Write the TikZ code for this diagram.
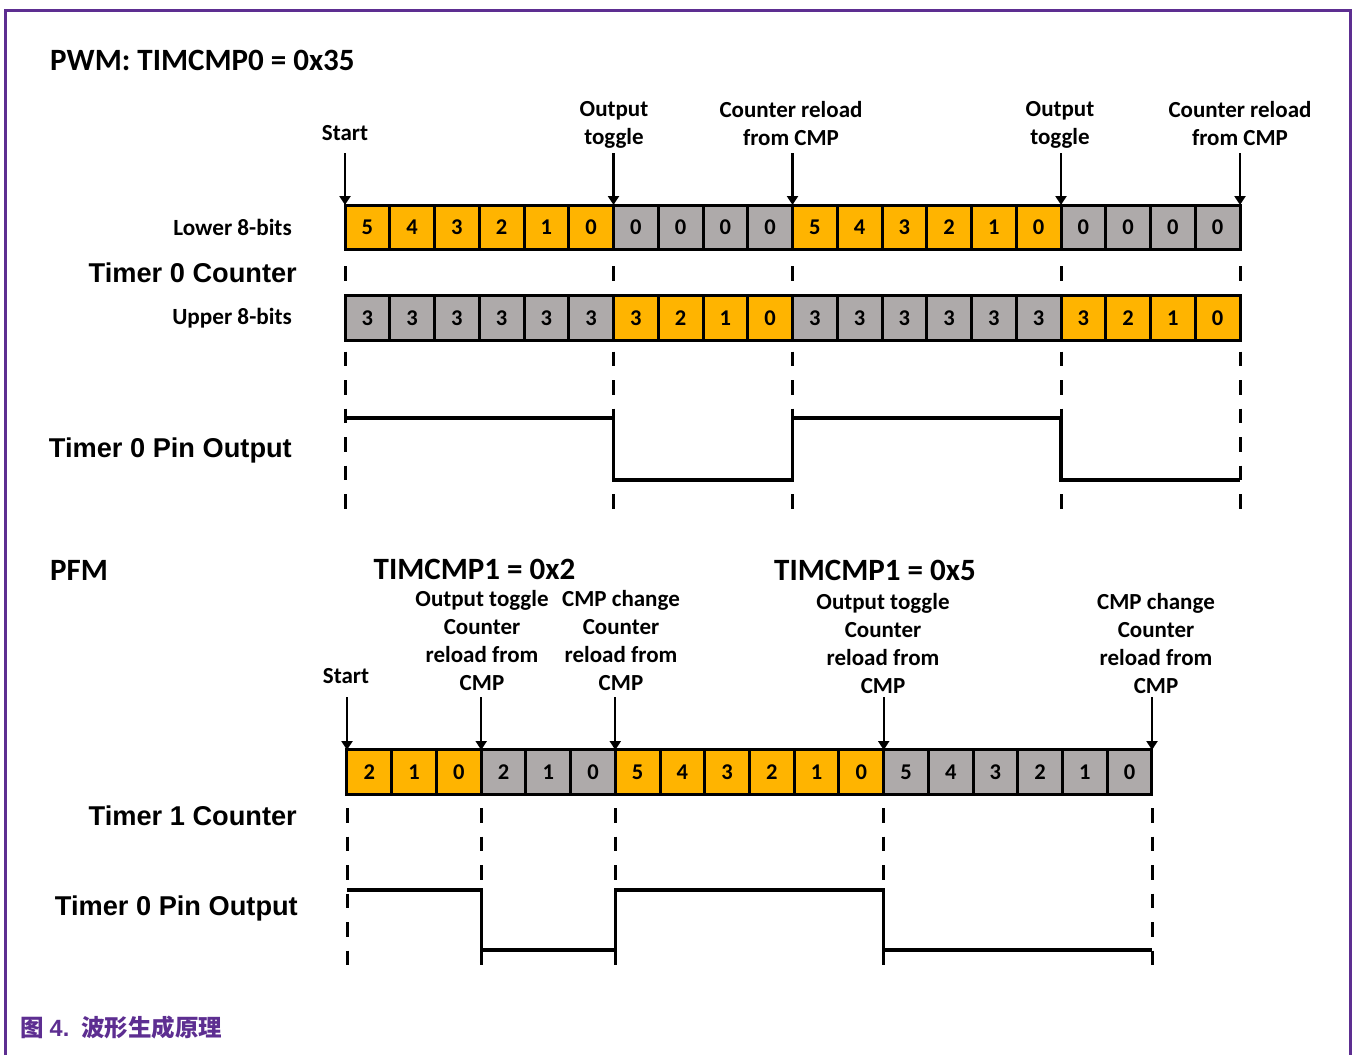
\documentclass[tikz,border=0pt]{standalone}
\usepackage{fontspec}
\setmainfont{Carlito}
\newfontfamily\arialf{Liberation Sans}
\newfontfamily\cjkf{Noto Sans CJK SC}
\usetikzlibrary{arrows.meta}
\definecolor{orng}{RGB}{255,180,0}
\definecolor{greyc}{RGB}{174,170,170}
\definecolor{nxppurple}{RGB}{93,46,145}
\begin{document}
\begin{tikzpicture}[x=1pt,y=-1pt,
  cellbox/.style={draw=black, line width=3pt, minimum width=44.75pt, minimum height=44.5pt, inner sep=0pt, font=\fontsize{22.5}{26}\selectfont\bfseries},
  lbl/.style={font=\fontsize{23}{28}\selectfont\bfseries, align=center, inner sep=0pt, anchor=base},
  big/.style={font=\fontsize{31}{36}\selectfont\bfseries, inner sep=0pt, anchor=base},
  rowlbl/.style={font=\arialf\fontsize{27.2}{32}\selectfont\bfseries, inner sep=0pt, anchor=base east},
  sublbl/.style={font=\fontsize{23.2}{28}\selectfont\bfseries, inner sep=0pt, anchor=base east},
  arr/.style={line width=2.2pt, -{Triangle[width=11pt,length=9pt]}},
  guide/.style={line width=3pt, dash pattern=on 14.5pt off 14pt},
  wave/.style={line width=3.2pt, line join=miter},
  frameline/.style={draw=nxppurple, line width=3pt}]

\useasboundingbox (0,0) rectangle (1352,1055);
\draw[frameline] (5,1055) -- (5,10) -- (1350,10) -- (1350,1055);

% ---------------- PWM ----------------
\node[big, anchor=base west] (pwmtitle) at (50,70) {PWM: TIMCMP0 = 0x35};

% guide coordinates
\foreach \x [count=\k from 0] in {345,613.5,792.5,1061,1240} {
  \coordinate (pgs\k) at (\x,266);
  \coordinate (pge\k) at (\x,510);
  \coordinate (pas\k) at (\x,153);
  \coordinate (pae\k) at (\x,205);
}
\foreach \k in {0,...,4} \draw[guide] (pgs\k) -- (pge\k);

% lower 8 bits
\foreach \v/\c [count=\i from 0] in {5/orng,4/orng,3/orng,2/orng,1/orng,0/orng,0/greyc,0/greyc,0/greyc,0/greyc,5/orng,4/orng,3/orng,2/orng,1/orng,0/orng,0/greyc,0/greyc,0/greyc,0/greyc}
  \node[cellbox, fill=\c] (lo\i) at ({345+44.75*(\i+0.5)},227.5) {\v};
% upper 8 bits
\foreach \v/\c [count=\i from 0] in {3/greyc,3/greyc,3/greyc,3/greyc,3/greyc,3/greyc,3/orng,2/orng,1/orng,0/orng,3/greyc,3/greyc,3/greyc,3/greyc,3/greyc,3/greyc,3/orng,2/orng,1/orng,0/orng}
  \node[cellbox, fill=\c] (up\i) at ({345+44.75*(\i+0.5)},318) {\v};

\node[lbl] (pstart) at (345,140) {Start};
\node[lbl] (ptog1) at (614,144) {Output\\toggle};
\node[lbl] (prel1) at (791,145) {Counter reload\\from CMP};
\node[lbl] (ptog2) at (1060,144) {Output\\toggle};
\node[lbl] (prel2) at (1240,145) {Counter reload\\from CMP};
\foreach \k in {0,...,4} \draw[arr] (pas\k) -- (pae\k);

\node[sublbl] (lowlbl) at (292,235) {Lower 8-bits};
\node[rowlbl] (t0c) at (297,282) {Timer 0 Counter};
\node[sublbl] (uplbl) at (292,324) {Upper 8-bits};
\node[rowlbl] (t0p) at (292,457) {Timer 0 Pin Output};

\draw[wave] (345,418) -- (613.5,418) -- (613.5,480) -- (792.5,480) -- (792.5,418)
  -- (1061,418) -- (1061,480) -- (1240,480);

% ---------------- PFM ----------------
\node[big, anchor=base west] (pfmtitle) at (50,580) {PFM};
\node[big] (cmp2) at (474.5,579) {TIMCMP1 = 0x2};
\node[big] (cmp5) at (875,580) {TIMCMP1 = 0x5};

\foreach \x [count=\k from 0] in {347,481.2,615.3,883.7,1152} {
  \coordinate (fgs\k) at (\x,808);
  \coordinate (fge\k) at (\x,970);
  \coordinate (fas\k) at (\x,697);
  \coordinate (fae\k) at (\x,750);
}
\foreach \k in {0,...,4} \draw[guide] (fgs\k) -- (fge\k);

\foreach \v/\c [count=\i from 0] in {2/orng,1/orng,0/orng,2/greyc,1/greyc,0/greyc,5/orng,4/orng,3/orng,2/orng,1/orng,0/orng,5/greyc,4/greyc,3/greyc,2/greyc,1/greyc,0/greyc}
  \node[cellbox, fill=\c] (pf\i) at ({347+44.72*(\i+0.5)},772) {\v};

\node[lbl] (fstart) at (346,683) {Start};
\node[lbl] (ftog1) at (482,690) {Output toggle\\Counter\\reload from\\CMP};
\node[lbl] (fchg1) at (621,690) {CMP change\\Counter\\reload from\\CMP};
\node[lbl] (ftog2) at (883,693) {Output toggle\\Counter\\reload from\\CMP};
\node[lbl] (fchg2) at (1156,693) {CMP change\\Counter\\reload from\\CMP};
\foreach \k in {0,...,4} \draw[arr] (fas\k) -- (fae\k);

\node[rowlbl] (t1c) at (297,825) {Timer 1 Counter};
\node[rowlbl] (t0p2) at (298,915) {Timer 0 Pin Output};

\draw[wave] (347,890) -- (481.2,890) -- (481.2,950) -- (615.3,950) -- (615.3,890)
  -- (883.7,890) -- (883.7,950) -- (1152,950);

% caption
\node[anchor=base west, inner sep=0pt, text=nxppurple, font=\fontsize{23.5}{28}\selectfont\bfseries] (caption) at (20,1036)
  {\cjkf 图\hspace{6pt}\arialf 4.\hspace{12pt}\cjkf 波形生成原理};
\end{tikzpicture}
\end{document}
